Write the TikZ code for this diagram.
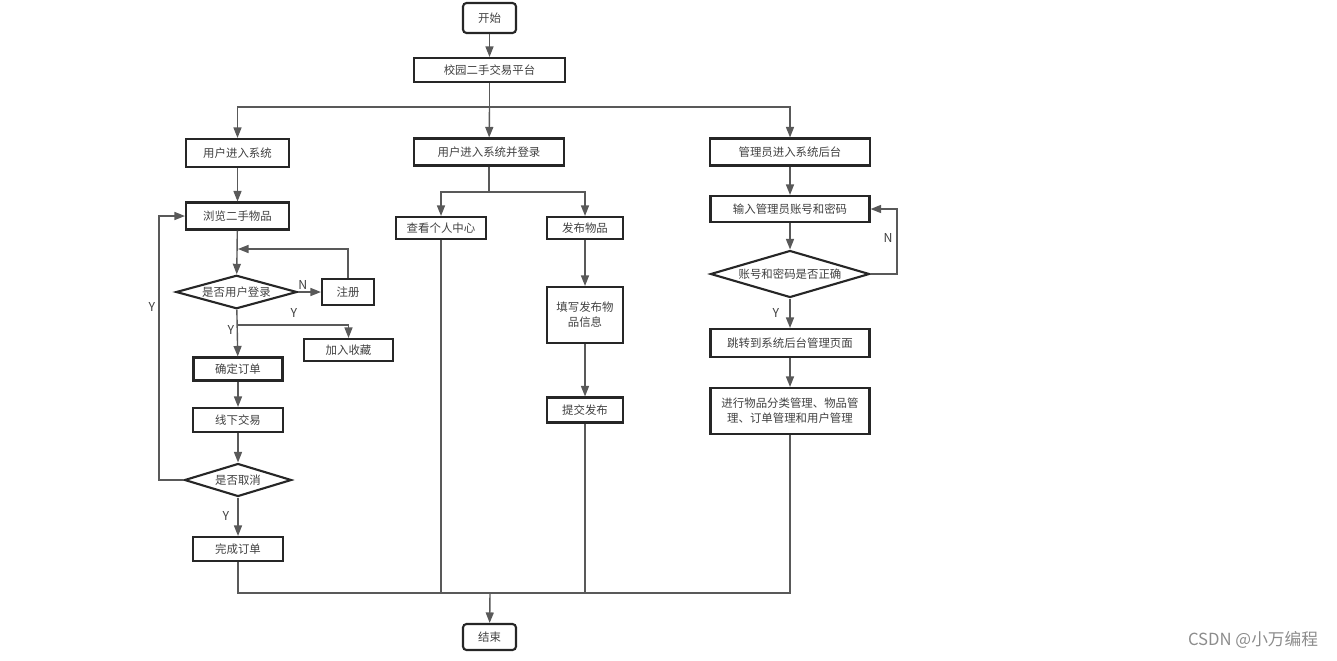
\documentclass[tikz,border=0pt]{standalone}
\usepackage{fontspec}
\setmainfont{Noto Sans CJK SC}
\usetikzlibrary{calc,positioning,arrows.meta,shapes.geometric}

\tikzset{
  box/.style={draw=black!85, line width=1.2pt, rectangle, inner sep=0pt, text=black!75, align=center, font=\fontsize{6.5}{8.5}\selectfont},
  term/.style={box, rounded corners=2pt},
  decide/.style={box, diamond, aspect=3},
  line/.style={draw=black!65, line width=0.8pt},
  arr/.style={line, -{Triangle[length=0.21cm,width=0.16cm]}},
  yn/.style={text=black!75, font=\fontsize{7}{8}\selectfont, inner sep=0pt}
}

\begin{document}
\begin{tikzpicture}[x=0.02cm, y=-0.02cm]

  \useasboundingbox (0,0) rectangle (1337,660);

  \node [term, minimum width=1.06cm, minimum height=0.60cm] at (489.5,18) (start) {开始};
  \node [box, minimum width=3.02cm, minimum height=0.48cm] at (489.5,70) (platform) {校园二手交易平台};

  \node [box, minimum width=2.06cm, minimum height=0.56cm] at (237.5,153) (user_enter) {用户进入系统};
  \node [box, minimum width=3.00cm, minimum height=0.54cm] at (489,152) (user_login) {用户进入系统并登录};
  \node [box, minimum width=3.20cm, minimum height=0.54cm] at (790,152) (admin_enter) {管理员进入系统后台};

  %left branch
  \node [box, minimum width=2.06cm, minimum height=0.54cm] at (237.5,216) (browse) {浏览二手物品};
  \node [decide, minimum width=2.42cm, minimum height=0.64cm] at (236.5,292) (is_login) {是否用户登录};
  \node [box, minimum width=1.04cm, minimum height=0.52cm] at (348,292) (register) {注册};
  \node [box, minimum width=1.78cm, minimum height=0.44cm] at (348.5,350) (favorite) {加入收藏};
  \node [box, minimum width=1.78cm, minimum height=0.46cm] at (238,369) (confirm) {确定订单};
  \node [box, minimum width=1.80cm, minimum height=0.48cm] at (238,420) (offline) {线下交易};
  \node [decide, minimum width=2.14cm, minimum height=0.66cm] at (238,480) (is_cancel) {是否取消};
  \node [box, minimum width=1.80cm, minimum height=0.48cm] at (238,549) (finish) {完成订单};

  %middle branch
  \node [box, minimum width=1.80cm, minimum height=0.44cm] at (441,228) (center_view) {查看个人中心};
  \node [box, minimum width=1.52cm, minimum height=0.44cm] at (585,228) (publish) {发布物品};
  \node [box, minimum width=1.52cm, minimum height=1.12cm] at (585,315) (fill_info) {填写发布物\\品信息};
  \node [box, minimum width=1.52cm, minimum height=0.50cm] at (585,410) (submit) {提交发布};

  %admin branch
  \node [box, minimum width=3.18cm, minimum height=0.52cm] at (790,209) (admin_input) {输入管理员账号和密码};
  \node [decide, minimum width=3.18cm, minimum height=0.94cm] at (790,274) (check_pwd) {账号和密码是否正确};
  \node [box, minimum width=3.18cm, minimum height=0.56cm] at (790,343) (jump_back) {跳转到系统后台管理页面};
  \node [box, minimum width=3.18cm, minimum height=0.92cm] at (790,411) (manage) {进行物品分类管理、物品管\\理、订单管理和用户管理};

  \node [term, minimum width=1.06cm, minimum height=0.52cm] at (489.5,637) (finish_all) {结束};

  \coordinate (split_top) at (489.5,107);
  \coordinate (split_mid) at (489,192);
  \coordinate (reg_back) at (238,249);
  \coordinate (fork_fav) at (237,325);
  \coordinate (cancel_left) at (159,480);
  \coordinate (pwd_right) at (897,274);
  \coordinate (merge) at (490,593);

  \draw [arr] (start) -- (platform);
  \draw [line] (platform) -- (split_top);
  \draw [arr] (split_top) -| (user_enter);
  \draw [arr] (split_top) -- (user_login);
  \draw [arr] (split_top) -| (admin_enter);

  \draw [arr] (user_enter) -- (browse);
  \draw [arr] (browse) -- (is_login);
  \draw [arr] (is_login) -- node [yn, above left=1pt and -3pt, pos=0.2] {N} (register);
  \draw [arr] (register.north) |- (reg_back);
  \draw [arr] (is_login) -- (confirm);
  \draw [arr] (fork_fav) -| (favorite);
  \node [yn] at (294,313) {Y};
  \node [yn] at (231,330) {Y};
  \draw [arr] (confirm) -- (offline);
  \draw [arr] (offline) -- (is_cancel);
  \draw [arr] (is_cancel) -- (finish);
  \node [yn] at (226,516) {Y};
  \draw [arr] (is_cancel.west) -- (cancel_left) |- (browse.west);
  \node [yn] at (152,307) {Y};

  \draw [line] (user_login) -- (split_mid);
  \draw [arr] (split_mid) -| (center_view);
  \draw [arr] (split_mid) -| (publish);
  \draw [arr] (publish) -- (fill_info);
  \draw [arr] (fill_info) -- (submit);

  \draw [arr] (admin_enter) -- (admin_input);
  \draw [arr] (admin_input) -- (check_pwd);
  \draw [arr] (check_pwd.east) -- (pwd_right) |- (admin_input.east);
  \node [yn] at (888,238) {N};
  \draw [arr] (check_pwd) -- (jump_back);
  \node [yn] at (776,313) {Y};
  \draw [arr] (jump_back) -- (manage);

  \draw [line] (finish.south) |- (merge);
  \draw [line] (center_view.south) |- (merge);
  \draw [line] (submit.south) |- (merge);
  \draw [line] (manage.south) |- (merge);
  \draw [arr] (merge) -- (finish_all);

  \node [text=black!45, font=\fontsize{9.5}{11}\selectfont] at (1253,640) (mark) {CSDN @小万编程};

\end{tikzpicture}
\end{document}
